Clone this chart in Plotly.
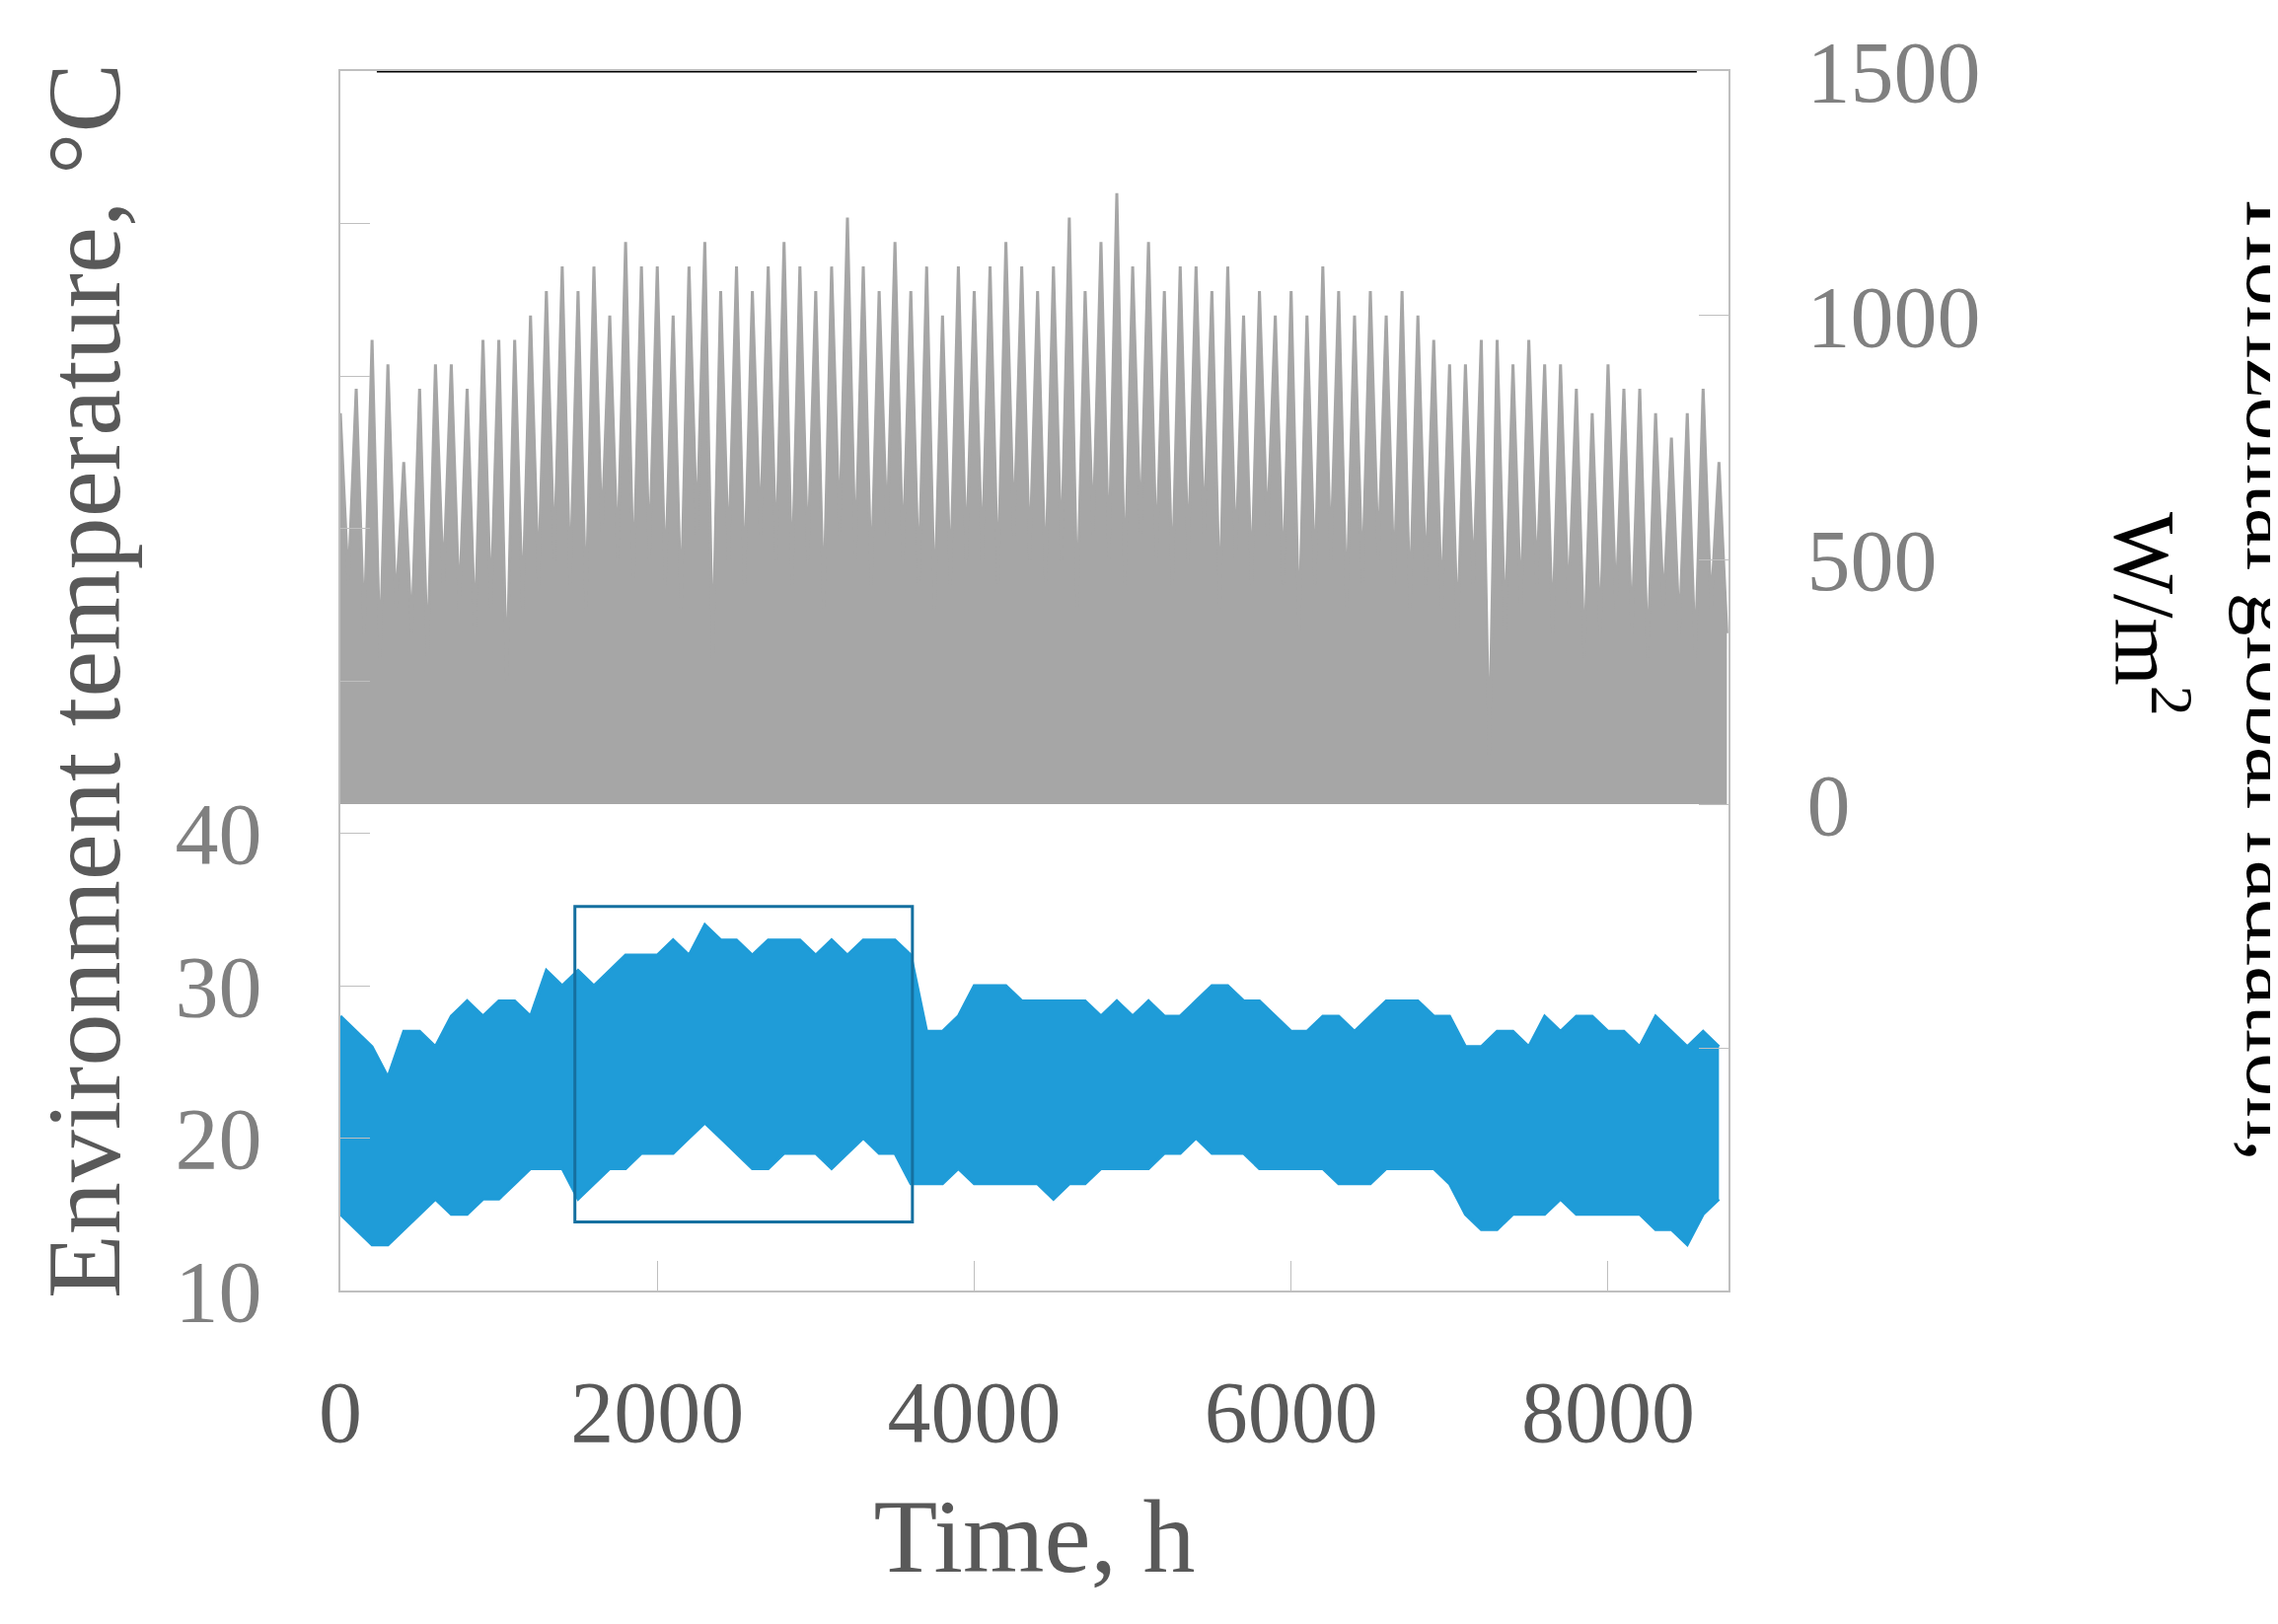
import plotly.graph_objects as go

step = 100
temp_upper = [28,27,26,24,27,27,26,28,29,28, 29,29,28,31,30, 31,30,31,32,32, 32,33,32,34,33, 33,32,33,33,33,
              32,33,32,33,33, 33,32,27,27,28, 30,30,30,29,29, 29,29,29,28,29, 28,29,28,28,29, 30,30,29,29,28,
              27,27,28,28,27, 28,29,29,29,28, 28,26,26,27,27, 26,28,27,28,28, 27,27,26,28,27,26,27,26]
temp_lower = [15,14,13,13,14,15,16,15,15,16, 16,17,18,18,18, 16,17,18,18,19, 19,19,20,21,20, 19,18,18,19,19,
              19,18,19,20,19, 19,17,17,17,18, 17,17,17,17,17, 16,17,17,18,18, 18,18,19,19,20, 19,19,19,18,18,
              18,18,18,17,17, 17,18,18,18,18, 17,15,14,14,15, 15,15,16,15,15, 15,15,15,14,14,13,15,16]
rad_peak = [800,850,950,900,700,850,900,900,850,950, 950,950,1000,1050,1100, 1050,1100,1000,1150,1100,
            1100,1000,1100,1150,1050, 1100,1050,1100,1150,1100, 1050,1100,1200,1100,1050, 1150,1050,1100,1000,1100,
            1050,1100,1150,1100,1050, 1100,1200,1050,1150,1250, 1100,1150,1050,1100,1100, 1050,1100,1000,1050,1000,
            1050,1000,1100,1050,1000, 1050,1000,1050,1000,950, 900,900,950,950,900, 950,900,900,850,800,
            900,850,850,800,750,800,850,700]
rad_base = [450,350,300,400,350,300,450,400,350,400, 250,400,450,500,450, 400,550,500,450,500,
            450,400,550,300,500, 450,550,500,450,500, 400,550,500,450,550, 500,450,400,450,500,
            500,450,550,500,450, 500,400,550,500,450, 550,500,450,500,550, 400,500,450,550,450,
            350,450,500,400,450, 500,450,400,450,400, 350,450,100,350,400, 450,350,400,300,350,
            400,350,300,400,350,300,400,350]

tx = [i * step for i in range(len(temp_upper))]
rx, ry = [], []
for i, (p, b) in enumerate(zip(rad_peak, rad_base)):
    rx += [i * step, i * step + step / 2]
    ry += [p, b]

fig = go.Figure()
fig.add_trace(go.Scatter(x=rx, y=ry, yaxis="y2", mode="lines", fill="tozeroy",
                         line=dict(color="#a6a6a6", width=3), fillcolor="#a6a6a6"))
fig.add_trace(go.Scatter(x=tx, y=temp_lower, mode="lines", line=dict(color="#1f9cd8", width=3)))
fig.add_trace(go.Scatter(x=tx, y=temp_upper, mode="lines", fill="tonexty",
                         line=dict(color="#1f9cd8", width=3), fillcolor="#1f9cd8"))

fig.add_shape(type="rect", x0=1480, x1=3610, y0=14.5, y1=35.2, xref="x", yref="y",
              line=dict(color="#1570a0", width=3))
fig.add_shape(type="line", x0=230, x1=8560, y0=1500, y1=1500, xref="x", yref="y2",
              line=dict(color="black", width=3))

font = "Liberation Serif"
fig.update_layout(
    width=2309, height=1646, showlegend=False,
    paper_bgcolor="white", plot_bgcolor="white",
    margin=dict(l=337, r=565, t=64, b=346),
    font=dict(family=font, size=88, color="#595959"),
    xaxis=dict(range=[0, 8760], tickvals=[0, 2000, 4000, 6000, 8000], ticks="inside", ticklen=30,
               tickcolor="#bfbfbf", showline=True, linecolor="#bfbfbf", linewidth=2, mirror=True,
               showgrid=False, zeroline=False, title=dict(text="Time, h", standoff=40),
               ticklabelstandoff=45),
    yaxis=dict(range=[10, 90], tickvals=[10, 20, 30, 40, 50, 60, 70, 80],
               ticktext=["10", "20", "30", "40", "", "", "", ""], ticks="inside", ticklen=30,
               tickcolor="#bfbfbf", showline=True, linecolor="#bfbfbf", linewidth=2,
               showgrid=False, zeroline=False, tickfont=dict(color="#808080"),
               title=dict(text="Environment temperature, °C", standoff=20), ticklabelstandoff=60),
    yaxis2=dict(range=[-995, 1500], overlaying="y", side="right",
                tickvals=[-500, 0, 500, 1000, 1500], ticktext=["", "0", "500", "1000", "1500"],
                ticks="inside", ticklen=30, tickcolor="#bfbfbf", showline=True, linecolor="#bfbfbf",
                linewidth=2, showgrid=False, zeroline=False, tickfont=dict(color="#808080"),
                ticklabelstandoff=60),
)
fig.add_annotation(text="Horizontal global radiation,", textangle=90,
                   xref="paper", yref="paper", x=1.395, xanchor="center", y=0.5, showarrow=False,
                   font=dict(size=88, color="#000000", family=font))
fig.add_annotation(text="W/m<sup>2</sup>", textangle=90,
                   xref="paper", yref="paper", x=1.305, xanchor="center", y=0.555, showarrow=False,
                   font=dict(size=88, color="#000000", family=font))
fig.write_html("out.html")
